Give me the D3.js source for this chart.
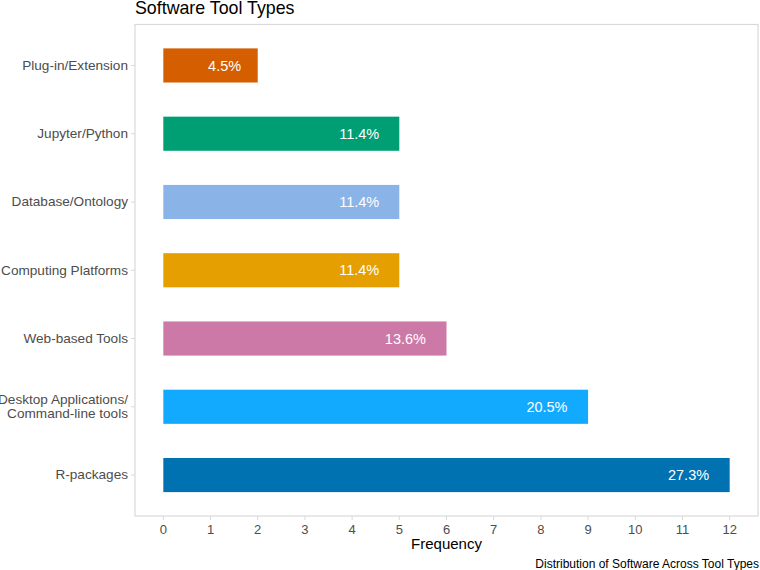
<!DOCTYPE html>
<html><head><meta charset="utf-8">
<script src="https://cdn.jsdelivr.net/npm/d3@7"></script>
<style>body{margin:0;background:#fff}svg{display:block;font-family:"Liberation Sans",Arial,sans-serif}</style>
</head><body><svg id="c" width="760" height="570"></svg>
<script>
const categories = ["Plug-in/Extension","Jupyter/Python","Database/Ontology","Computing Platforms","Web-based Tools","Desktop Applications/\nCommand-line tools","R-packages"];
const frequencies = [2,5,5,5,6,9,12];
const percentLabels = ["4.5%","11.4%","11.4%","11.4%","13.6%","20.5%","27.3%"];
const barColors = ["#D55E00","#009E73","#8AB4E8","#E69F00","#CC79A7","#12AAFF","#0072B2"];
const xTicks = [0,1,2,3,4,5,6,7,8,9,10,11,12];

const svg = d3.select("#c");
const L = 135, R = 758, T = 24.5, B = 516;
const x = d3.scaleLinear().domain([-0.6, 12.6]).range([L, R]);
const step = (B - T) / 7.2;
const yc = i => T + step * (0.6 + i);
const bh = step * 0.5;

svg.append("rect").attr("x", L).attr("y", T).attr("width", R - L).attr("height", B - T)
  .attr("fill", "none").attr("stroke", "#d9d9d9").attr("stroke-width", 1.2);

svg.append("g").selectAll("rect").data(frequencies).join("rect")
  .attr("x", x(0)).attr("y", (d, i) => yc(i) - bh / 2)
  .attr("width", d => x(d) - x(0)).attr("height", bh)
  .attr("fill", (d, i) => barColors[i]);

const lab = svg.append("g").selectAll("text").data(frequencies).join("text")
  .attr("y", (d, i) => yc(i)).attr("dy", "0.35em")
  .attr("fill", "#fff").attr("font-size", 14.5).attr("text-anchor", "end")
  .text((d, i) => percentLabels[i]);
lab.each(function(d) {
  const w = this.getComputedTextLength();
  d3.select(this).attr("x", x(d) - 0.5 * w);
});

const yg = svg.append("g");
categories.forEach((c, i) => {
  yg.append("line").attr("x1", L - 4).attr("x2", L).attr("y1", yc(i)).attr("y2", yc(i)).attr("stroke", "#d9d9d9");
  const lines = c.split("\n");
  const t = yg.append("text").attr("x", L - 7).attr("text-anchor", "end").attr("fill", "#4d4d4d").attr("font-size", 13.6);
  lines.forEach((ln, j) => {
    t.append("tspan").attr("x", L - 7).attr("y", yc(i) - 0.5 + (j - (lines.length - 1) / 2) * 14.5).attr("dy", "0.35em").text(ln);
  });
});

const xg = svg.append("g");
xTicks.forEach(v => {
  xg.append("line").attr("x1", x(v)).attr("x2", x(v)).attr("y1", B).attr("y2", B + 4).attr("stroke", "#d9d9d9");
  xg.append("text").attr("x", x(v)).attr("y", B + 13).attr("dy", "0.35em").attr("text-anchor", "middle")
    .attr("fill", "#4d4d4d").attr("font-size", 13).text(v);
});

svg.append("text").attr("x", (L + R) / 2).attr("y", 544).attr("dy", "0.35em").attr("text-anchor", "middle")
  .attr("font-size", 15).attr("fill", "#000").text("Frequency");
svg.append("text").attr("x", 759).attr("y", 564).attr("dy", "0.35em").attr("text-anchor", "end")
  .attr("font-size", 12).attr("fill", "#000").text("Distribution of Software Across Tool Types");
svg.append("text").attr("x", L).attr("y", 14).attr("font-size", 17.8).attr("fill", "#000").text("Software Tool Types");
</script></body></html>
